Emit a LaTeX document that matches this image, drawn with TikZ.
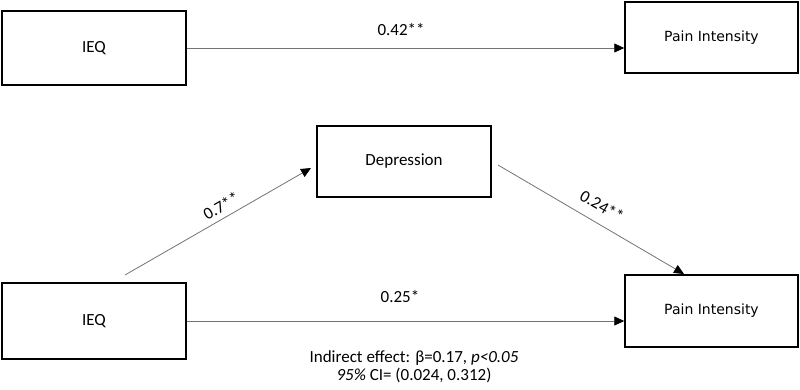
\documentclass[tikz,border=0pt]{standalone}
\usepackage{fontspec}
\setmainfont{Carlito}
\newfontfamily\painfont{DejaVu Sans}
\usetikzlibrary{arrows.meta}
\begin{document}
\begin{tikzpicture}[x=1pt,y=-1pt,
  varbox/.style={draw=black,line width=1.5pt,inner sep=0pt,font=\fontsize{17}{20}\selectfont},
  painbox/.style={varbox,font=\painfont\fontsize{14}{17}\selectfont},
  path/.style={draw=black!55,line width=0.8pt,-{Triangle[length=10pt,width=9pt,color=black]}},
  lab/.style={font=\fontsize{17}{20}\selectfont,inner sep=0pt}]
\useasboundingbox (0,0) rectangle (800,389);
% top model
\node[varbox,minimum width=184pt,minimum height=74pt] (ieqA) at (94,48) {IEQ};
\node[painbox,minimum width=173pt,minimum height=71pt] (painA) at (711.5,37.5) {Pain Intensity};
\draw[path] (ieqA.east) -- (ieqA -| painA.west) node[lab,pos=0.49,above=12pt] (cA) {0.42**};
% mediation model
\node[varbox,minimum width=174pt,minimum height=71pt] (dep) at (404,161.5) {Depression};
\node[varbox,minimum width=184pt,minimum height=76pt] (ieqB) at (94,321) {IEQ};
\node[painbox,minimum width=173pt,minimum height=72pt] (painB) at (711.5,311) {Pain Intensity};
\coordinate (aS) at (125,275);
\coordinate (aE) at (311,168);
\coordinate (bS) at (498,165);
\coordinate (bE) at (684,274);
\draw[path] (aS) -- (aE);
\draw[path] (bS) -- (bE);
\draw[path] (ieqB.east) -- (ieqB -| painB.west);
\node[lab,rotate=30] (la) at (221,206) {0.7**};
\node[lab,rotate=-30] (lb) at (602,206) {0.24**};
\node[lab] (lc) at (400,297) {0.25*};
\node[lab,align=center] (ind) at (414,367) {Indirect effect: β=0.17, \textit{p<0.05}\\[-2pt]\textit{95\%} CI= (0.024, 0.312)};
\end{tikzpicture}
\end{document}
